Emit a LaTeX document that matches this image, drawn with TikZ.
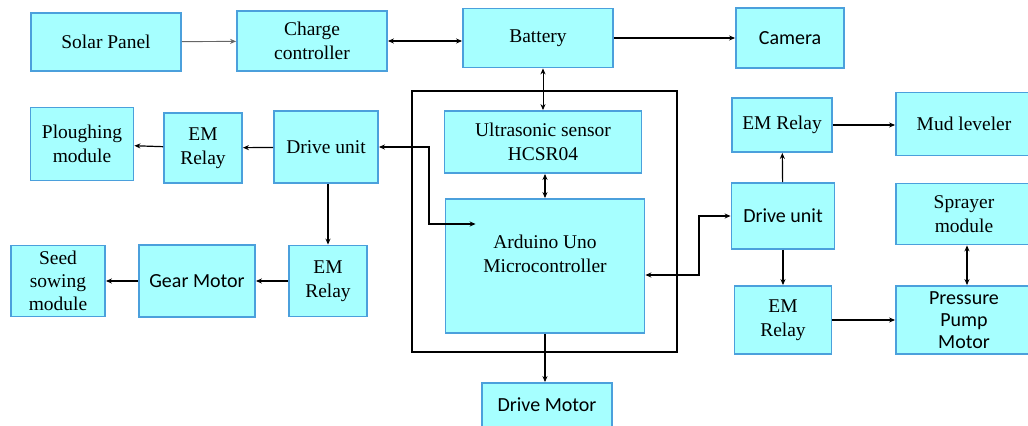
\documentclass[tikz,border=0pt]{standalone}
\usepackage{fontspec}
\setmainfont{Liberation Serif}
\newfontfamily\calib{Carlito}
\usepackage{xcolor}
\usetikzlibrary{arrows.meta,positioning,calc}

\definecolor{boxfill}{RGB}{166,255,255}
\definecolor{boxline}{RGB}{75,160,220}

\tikzset{
  blk/.style={draw=boxline, line width=1.4pt, fill=boxfill, align=center,
              inner sep=1pt, font=\fontsize{14.6}{17.6}\selectfont},
  sz/.style 2 args={minimum width=#1*0.75pt, minimum height=#2*0.75pt},
  sf/.style={font=\fontsize{15}{16.5}\selectfont\calib},
  con/.style={line width=0.9pt, -{Stealth[length=4.5pt,width=3.8pt]}},
  bicon/.style={line width=0.9pt, {Stealth[length=4.5pt,width=3.8pt]}-{Stealth[length=4.5pt,width=3.8pt]}},
}

\begin{document}
\begin{tikzpicture}[x=0.75pt,y=-0.75pt]
 \useasboundingbox (0,0) rectangle (1028,425);
 % controller frame
 \draw[line width=1.1pt] (412,91) rectangle (677,352);
 % top row: power
 \node[blk, sz={150}{58}] (solar) at (106,42) {Solar Panel};
 \node[blk, sz={150}{60}] (charge) at (312,41) {Charge\\controller};
 \node[blk, sz={150}{59}] (batt) at (538,38) {Battery};
 \node[blk, sf, sz={108}{60}] (cam) at (790,38) {Camera};
 % centre: sensor and controller
 \node[blk, sz={197}{62}] (ultra) at (543,142) {Ultrasonic sensor\\HCSR04};
 \node[blk, sz={199}{134}] (ard) at (545,266) {Arduino Uno\\Microcontroller\\[1pt]};
 \node[blk, sf, sz={130}{44}] (dmotor) at (547,405) {Drive Motor};
 % left side
 \node[blk, sz={103}{73}] (plough) at (82,144) {Ploughing\\module};
 \node[blk, sz={78}{70}] (relayA) at (203,148) {EM\\Relay};
 \node[blk, sz={104}{72}] (driveL) at (326,147) {Drive unit};
 \node[blk, sz={78}{71}] (relayB) at (328,281) {EM\\Relay};
 \node[blk, sf, sz={116}{72}] (gear) at (197,281) {Gear Motor};
 \node[blk, sz={94}{71}, font=\fontsize{14.6}{17.3}\selectfont] (seed) at (58,281) {Seed\\sowing\\module};
 % right side
 \node[blk, sz={100}{54}] (relayC) at (782,125) {EM Relay};
 \node[blk, sz={136}{63}] (mud) at (964,124) {Mud leveler};
 \node[blk, sf, sz={103}{66}] (driveR) at (783,216) {Drive unit};
 \node[blk, sz={136}{61}] (spray) at (964,214) {Sprayer\\module};
 \node[blk, sz={97}{68}] (relayD) at (783,320) {EM\\Relay};
 \node[blk, sf, sz={136}{68}] (pump) at (964,320) {Pressure\\Pump\\Motor};

 % power connections
 \draw[con, black!60, line width=0.7pt] (solar) -- (charge);
 \draw[bicon] (charge) -- (batt.west |- charge);
 \draw[con] (batt.east |- cam) -- (cam);
 \draw[bicon, line width=0.6pt] (batt.south -| ultra) -- (ultra);
 \draw[bicon] (ultra.south -| ard) -- (ard);
 % controller links
 \draw[bicon] (driveL) -- (429,147) |- ($(ard.west)+(31,-42)$);
 \draw[bicon, line width=1.6pt] (ard.east |- 0,275) -- (699,275) |- (driveR);
 \draw[con] (ard.south) -- (ard.south |- dmotor.north);
 % left chain
 \draw[con] (driveL) -- (relayA);
 \draw[con] (relayA) -- (plough);
 \draw[con] (driveL.south -| relayB) -- (relayB);
 \draw[con] (relayB) -- (gear);
 \draw[con] (gear) -- (seed);
 % right chain
 \draw[con] (driveR) -- (relayC);
 \draw[con, line width=1.4pt] (relayC) -- (mud.west |- relayC);
 \draw[con] (driveR) -- (relayD);
 \draw[con, line width=1.4pt] (relayD) -- (pump);
 \draw[bicon] (spray.south -| 967,0) -- (pump.north -| 967,0);
\end{tikzpicture}
\end{document}
